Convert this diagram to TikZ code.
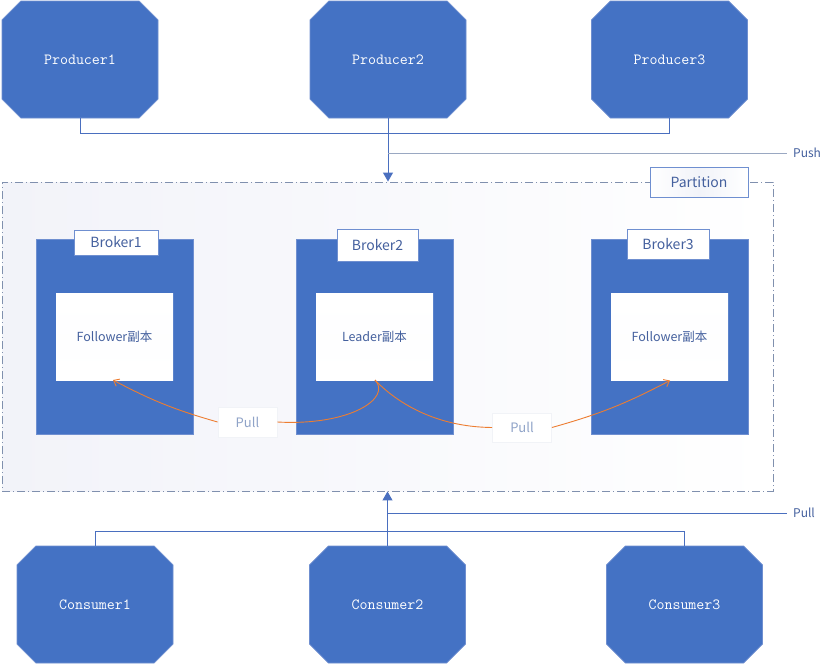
\documentclass[tikz,border=0pt]{standalone}
\usepackage{fontspec}
\setmainfont{Noto Sans CJK SC}
\usetikzlibrary{shapes.misc,arrows.meta,calc}
\definecolor{kblue}{HTML}{4472C4}
\definecolor{kedge}{HTML}{6F8FD0}
\definecolor{ktext}{HTML}{44609E}
\definecolor{kline}{HTML}{4A6FBF}
\definecolor{kgray}{HTML}{9AA8C2}
\definecolor{kdash}{HTML}{8090AE}
\definecolor{korange}{HTML}{ED7D31}
\definecolor{kpull}{HTML}{8FA3C8}
\definecolor{kbg}{HTML}{ECEEF6}
\definecolor{kbgl}{HTML}{F2F3F9}
\begin{document}
\begin{tikzpicture}[x=1pt,y=-1pt,
  octo/.style={chamfered rectangle, chamfered rectangle xsep=14pt, chamfered rectangle ysep=14pt,
    fill=kblue, draw=kedge, line width=0.8pt, inner sep=0pt, minimum width=156pt, minimum height=117pt,
    text=white, font=\ttfamily\fontsize{15.5}{15.5}\selectfont},
  broker/.style={rectangle, fill=kblue, draw=kedge, line width=0.8pt, minimum width=157pt, minimum height=195pt, inner sep=0pt},
  blabel/.style={rectangle, fill=white, draw=kedge, line width=0.8pt, inner sep=0pt, text=ktext,
    font=\fontsize{14}{14}\selectfont},
  replica/.style={rectangle, top color=white, bottom color=white, middle color=white!94!kbg, draw=none,
    minimum width=117pt, minimum height=87pt, inner sep=0pt, text=ktext, font=\fontsize{12.5}{12.5}\selectfont},
  pullbox/.style={rectangle, fill=white, draw=kbg!80!kgray!40, line width=0.8pt, minimum width=59pt,
    inner sep=0pt, text=kpull, font=\fontsize{13}{13}\selectfont},
  conn/.style={draw=kline, line width=1pt},
  side/.style={draw=kgray, line width=1pt},
  sidelabel/.style={anchor=west, text=ktext, inner sep=0pt, xshift=6pt, font=\fontsize{12}{12}\selectfont},
  orangeline/.style={draw=korange, line width=0.9pt},
  bigtip/.style={-{Triangle[width=10pt,length=9pt]}}
]
\useasboundingbox (0,0) rectangle (828,664);

% partition region
\node[rectangle, left color=kbgl, right color=white, draw=kdash, line width=0.9pt,
  dash pattern=on 8pt off 3pt on 1pt off 3pt, minimum width=771pt, minimum height=309pt, inner sep=0pt]
  (part) at (387.5,336.5) {};
\node[blabel, minimum width=98pt, minimum height=30pt, left color=white, right color=white, middle color=kbg!70]
  (partlbl) at (699,182) {Partition};

% producers
\node[octo] (p1) at (80,59.5) {Producer1};
\node[octo] (p2) at (388,59.5) {Producer2};
\node[octo] (p3) at (669.5,59.5) {Producer3};

\coordinate (pj1) at (80,133);
\coordinate (pj3) at (669.5,133);
\draw[conn] (p1.south) -- (pj1) -- (pj3) -- (p3.south);
\draw[conn,bigtip] (p2.south) -- (p2.south |- part.north);
\coordinate (pushs) at (388,153);
\coordinate (pushe) at (787,153);
\draw[side] (pushs) -- (pushe);
\node[sidelabel] (push) at (pushe) {Push};

% brokers
\node[broker] (b1) at (114.5,336.5) {};
\node[broker] (b2) at (375,336.5) {};
\node[broker] (b3) at (669.5,336.5) {};
\node[blabel, minimum width=84pt, minimum height=25pt] (bl1) at (116,242.5) {Broker1};
\node[blabel, minimum width=81pt, minimum height=32pt] (bl2) at (377.5,245) {Broker2};
\node[blabel, minimum width=82pt, minimum height=30pt] (bl3) at (668,244) {Broker3};

\node[replica] (f1) at (114.5,336.5) {Follower副本};
\node[replica] (ld) at (374.5,336.5) {Leader副本};
\node[replica] (f3) at (669.5,336.5) {Follower副本};

\node[pullbox, minimum height=30pt] (pl1) at (247.5,422) {Pull};
\node[pullbox, minimum height=29pt] (pl2) at (522,427.5) {Pull};

\coordinate (lda) at (375,380);
\coordinate (f1a) at (113,380);
\coordinate (f3a) at (670,380.5);
\draw[orangeline] (lda) .. controls (392,398) and (350,426) .. (pl1.east);
\draw[orangeline,-{Straight Barb[length=5pt,width=8pt]}] (pl1.west) to[bend left=6] (f1a);
\draw[orangeline] (lda) .. controls (396,402) and (435,427) .. (pl2.west);
\draw[orangeline,-{Straight Barb[length=5pt,width=8pt]}] (pl2.east) to[bend right=6] (f3a);

% consumers
\node[octo] (c1) at (95,604.5) {Consumer1};
\node[octo] (c2) at (387.5,604.5) {Consumer2};
\node[octo] (c3) at (684.5,604.5) {Consumer3};

\coordinate (cj1) at (95,531);
\coordinate (cj3) at (684.5,531);
\draw[conn] (c1.north) -- (cj1) -- (cj3) -- (c3.north);
\draw[conn,bigtip] (c2.north) -- (c2.north |- part.south);
\coordinate (pulls) at (387.5,513);
\coordinate (pulle) at (787,513);
\draw[conn] (pulls) -- (pulle);
\node[sidelabel] (pull) at (pulle) {Pull};
\end{tikzpicture}
\end{document}
